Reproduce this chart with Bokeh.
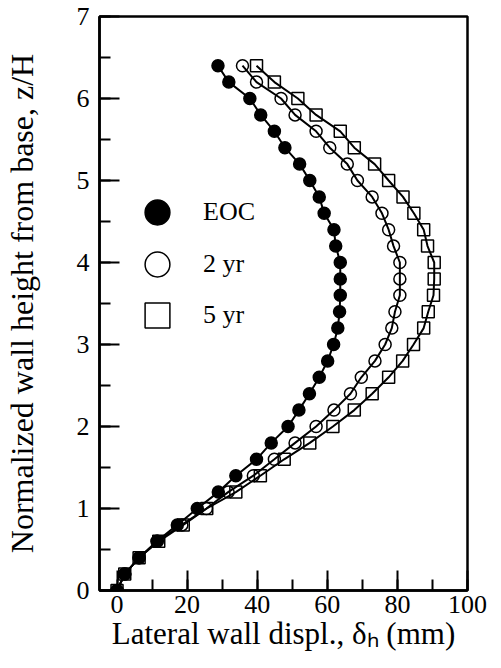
from bokeh.plotting import figure
from bokeh.models import Range1d, SingleIntervalTicker, Legend, LegendItem
from bokeh.embed import file_html
from bokeh.resources import INLINE

# ---- data ----
z_over_H = [0.0, 0.2, 0.4, 0.6, 0.8, 1.0, 1.2, 1.4, 1.6, 1.8, 2.0, 2.2, 2.4, 2.6, 2.8,
            3.0, 3.2, 3.4, 3.6, 3.8, 4.0, 4.2, 4.4, 4.6, 4.8, 5.0, 5.2, 5.4, 5.6, 5.8,
            6.0, 6.2, 6.4]
eoc = [0.0, 2.2, 6.3, 11.4, 17.2, 22.9, 28.9, 33.9, 39.8, 44.0, 48.8, 51.9, 54.9, 57.7, 60.1,
       61.8, 63.0, 63.5, 63.7, 63.7, 63.7, 62.4, 61.9, 59.1, 57.7, 55.0, 52.1, 47.9, 44.9, 41.0,
       37.9, 31.9, 28.8]
yr2 = [0.0, 2.2, 6.3, 11.5, 18.5, 25.5, 31.7, 38.9, 44.9, 50.8, 56.8, 61.9, 66.6, 69.7, 73.6,
       76.5, 78.4, 79.3, 80.7, 80.7, 80.7, 78.9, 77.5, 75.6, 72.8, 68.6, 65.7, 60.7, 56.8, 50.8,
       46.8, 39.8, 35.8]
yr5 = [0.0, 2.2, 6.3, 11.9, 18.9, 25.6, 33.9, 40.9, 47.7, 55.0, 61.6, 67.7, 72.8, 77.5, 81.5,
       84.6, 87.5, 88.8, 90.3, 90.5, 90.5, 88.6, 87.5, 84.7, 81.6, 77.5, 73.5, 67.7, 63.7, 56.8,
       51.6, 44.9, 39.8]
series_labels = ["EOC", "2 yr", "5 yr"]
y_title = "Normalized wall height from base, z/H"
x_title = "Lateral wall displ., δₕ (mm)"

x_lo, x_hi = -5, 100
y_lo, y_hi = 0, 7

FONT = "Liberation Serif"

p = figure(frame_width=368, frame_height=574,
           x_range=Range1d(x_lo, x_hi), y_range=Range1d(y_lo, y_hi),
           output_backend="svg", toolbar_location=None,
           min_border_left=97, min_border_right=20, min_border_top=16, min_border_bottom=10)

p.xgrid.visible = False
p.ygrid.visible = False
p.outline_line_color = "black"
p.outline_line_width = 2.5
p.outline_line_alpha = 1.0

p.xaxis.ticker = SingleIntervalTicker(interval=20, num_minor_ticks=2)
p.yaxis.ticker = SingleIntervalTicker(interval=1, num_minor_ticks=2)

for ax in (p.xaxis[0], p.yaxis[0]):
    ax.major_tick_in = 20
    ax.major_tick_out = 0
    ax.minor_tick_in = 11
    ax.minor_tick_out = 0
    ax.major_tick_line_width = 2
    ax.minor_tick_line_width = 2
    ax.major_tick_line_color = "black"
    ax.minor_tick_line_color = "black"
    ax.axis_line_width = 2.5
    ax.axis_line_color = "black"
    ax.major_label_text_font = FONT
    ax.major_label_text_font_size = "26px"
    ax.major_label_text_color = "black"
    ax.axis_label_text_font = FONT
    ax.axis_label_text_font_style = "normal"
    ax.axis_label_text_color = "black"

p.yaxis.major_label_standoff = 10
p.yaxis.axis_label = y_title
p.yaxis.axis_label_text_font_size = "32px"
p.yaxis.axis_label_standoff = 34

p.xaxis.major_label_standoff = 5
p.xaxis.axis_label = x_title
p.xaxis.axis_label_text_font_size = "31px"
p.xaxis.axis_label_standoff = 0

# ---- curves and markers ----
for xs in (eoc, yr2, yr5):
    p.line(xs, z_over_H, line_color="black", line_width=2)

r_eoc = p.scatter(eoc, z_over_H, marker="circle", size=12, fill_color="black",
                  line_color="black", line_width=1.5)
r_2 = p.scatter(yr2, z_over_H, marker="circle", size=12, fill_alpha=0,
                line_color="black", line_width=1.5)
r_5 = p.scatter(yr5, z_over_H, marker="square", size=12, fill_alpha=0,
                line_color="black", line_width=1.5)

# one legend per entry so the keys can be large yet closely spaced
for lab, r, loc in zip(series_labels, (r_eoc, r_2, r_5), ((27, 347), (27, 295), (27, 244))):
    p.add_layout(Legend(items=[LegendItem(label=lab, renderers=[r])],
                        location=loc, glyph_width=62, glyph_height=62,
                        padding=0, margin=0, label_standoff=15,
                        label_text_font=FONT, label_text_font_size="26px",
                        label_text_color="black",
                        border_line_color=None, background_fill_alpha=0))

open("out.html", "w").write(file_html(p, INLINE))
